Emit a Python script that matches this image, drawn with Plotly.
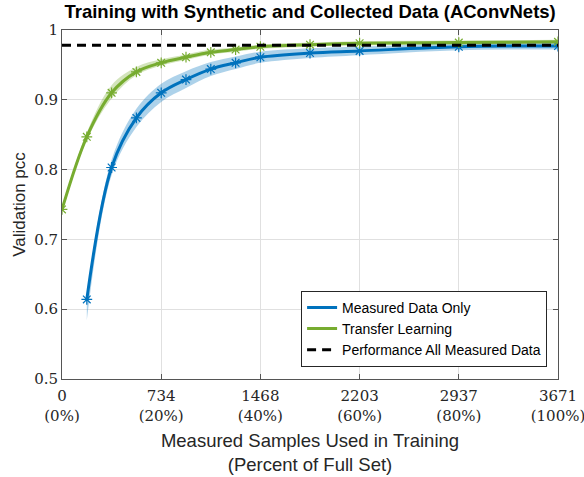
import plotly.graph_objects as go

FULL_SET = 3671
# Measured data only
meas_pct = [5, 10, 15, 20, 25, 30, 35, 40, 50, 60, 80, 100]
meas_mean = [0.614, 0.803, 0.874, 0.910, 0.929, 0.944, 0.953, 0.961, 0.967, 0.970, 0.976, 0.977]
meas_lo = [0.030, 0.011, 0.013, 0.013, 0.012, 0.010, 0.009, 0.008, 0.007, 0.006, 0.005, 0.005]
meas_hi = [0.008, 0.011, 0.013, 0.013, 0.012, 0.010, 0.009, 0.008, 0.007, 0.006, 0.005, 0.005]
# Transfer learning
tl_pct = [0, 5, 10, 15, 20, 25, 30, 35, 40, 50, 60, 80, 100]
tl_mean = [0.743, 0.847, 0.910, 0.940, 0.953, 0.961, 0.968, 0.972, 0.976, 0.979, 0.981, 0.982, 0.983]
tl_lo = [0.003, 0.005, 0.008, 0.005, 0.004, 0.004, 0.003, 0.003, 0.003, 0.003, 0.003, 0.003, 0.003]
tl_hi = [0.003, 0.006, 0.011, 0.007, 0.005, 0.004, 0.004, 0.003, 0.003, 0.003, 0.003, 0.003, 0.003]
# Reference performance
all_measured = 0.978

x_ticks = [0, 734, 1468, 2203, 2937, 3671]
x_tick_pct = ["0%", "20%", "40%", "60%", "80%", "100%"]
y_ticks = [0.5, 0.6, 0.7, 0.8, 0.9, 1.0]
y_tick_labels = ["0.5", "0.6", "0.7", "0.8", "0.9", "1"]

BLUE = "#0072BD"
GREEN = "#77AC30"

meas_x = [p * FULL_SET / 100 for p in meas_pct]
tl_x = [p * FULL_SET / 100 for p in tl_pct]

fig = go.Figure()


def add_band(x, mean, lo, hi, color):
    upper = [m + h for m, h in zip(mean, hi)]
    lower = [m - l for m, l in zip(mean, lo)]
    fig.add_trace(go.Scatter(x=x, y=upper, mode="lines", line=dict(width=0, shape="spline"),
                             showlegend=False, hoverinfo="skip"))
    fig.add_trace(go.Scatter(x=x, y=lower, mode="lines", line=dict(width=0, shape="spline"),
                             fill="tonexty", fillcolor=color, showlegend=False, hoverinfo="skip"))


add_band(meas_x, meas_mean, meas_lo, meas_hi, "rgba(0,114,189,0.32)")
add_band(tl_x, tl_mean, tl_lo, tl_hi, "rgba(119,172,48,0.32)")

fig.add_trace(go.Scatter(x=meas_x, y=meas_mean, mode="lines+markers",
                         line=dict(color=BLUE, width=3, shape="spline"),
                         marker=dict(symbol="asterisk-open", size=9, line=dict(color=BLUE, width=1.2)),
                         showlegend=False))
fig.add_trace(go.Scatter(x=tl_x, y=tl_mean, mode="lines+markers",
                         line=dict(color=GREEN, width=3, shape="spline"),
                         marker=dict(symbol="asterisk-open", size=9, line=dict(color=GREEN, width=1.2)),
                         showlegend=False))
fig.add_trace(go.Scatter(x=[0, FULL_SET], y=[all_measured, all_measured], mode="lines",
                         line=dict(color="black", width=3, dash="9px,6px"), showlegend=False))

# legend-only entries
fig.add_trace(go.Scatter(x=[None], y=[None], mode="lines", line=dict(color=BLUE, width=3),
                         name="Measured Data Only"))
fig.add_trace(go.Scatter(x=[None], y=[None], mode="lines", line=dict(color=GREEN, width=3),
                         name="Transfer Learning"))
fig.add_trace(go.Scatter(x=[None], y=[None], mode="lines", line=dict(color="black", width=3, dash="9px,6px"),
                         name="Performance All Measured Data"))

axis_common = dict(showline=True, linecolor="#555555", linewidth=1, mirror="ticks",
                   ticks="inside", ticklen=5, tickcolor="#555555", automargin=False,
                   ticklabeloverflow="allow",
                   showgrid=True, gridcolor="#e0e0e0", gridwidth=1, zeroline=False,
                   tickfont=dict(family="DejaVu Serif, Liberation Serif, serif", size=15, color="#262626"))

fig.update_xaxes(range=[0, FULL_SET], tickvals=x_ticks,
                 ticktext=[f"{v}<br>({p})" for v, p in zip(x_ticks, x_tick_pct)],
                 ticklabelstandoff=3,
                 title=dict(text="Measured Samples Used in Training<br>(Percent of Full Set)",
                            font=dict(family="Liberation Sans, Arial, sans-serif", size=18.5, color="#262626"),
                            standoff=10),
                 **axis_common)
fig.update_yaxes(range=[0.5, 1.0], tickvals=y_ticks, ticktext=y_tick_labels,
                 title=dict(text="Validation pcc",
                            font=dict(family="Liberation Sans, Arial, sans-serif", size=17, color="#262626"),
                            standoff=4),
                 **axis_common)

fig.update_layout(
    width=584, height=477,
    margin=dict(l=62, r=26, t=30, b=98, autoexpand=False),
    plot_bgcolor="white", paper_bgcolor="white",
    title=dict(text="<b>Training with Synthetic and Collected Data (AConvNets)</b>",
               x=0.531, xanchor="center", y=0.99, yanchor="top", automargin=False,
               font=dict(family="Liberation Sans, Arial, sans-serif", size=18.5, color="black")),
    legend=dict(x=0.978, xanchor="right", y=0.035, yanchor="bottom",
                bgcolor="white", bordercolor="#262626", borderwidth=1,
                font=dict(family="Liberation Sans, Arial, sans-serif", size=14, color="black"),
                traceorder="normal", tracegroupgap=0, itemwidth=30),
    showlegend=True,
)

fig.write_html("out.html")
